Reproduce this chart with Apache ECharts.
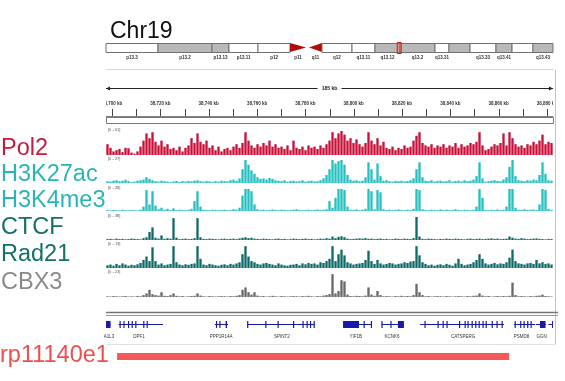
<!DOCTYPE html>
<html><head><meta charset="utf-8">
<script src="https://cdn.jsdelivr.net/npm/echarts@6/dist/echarts.min.js"></script>
<style>html,body{margin:0;padding:0;background:#fff}#c{width:565px;height:381px}</style>
</head><body><div id="c"></div>
<script>
// ---------------- DATA ----------------
const chromName = 'Chr19';
const chromLength = 59.13; // Mb
const bandNames  = ['p13.3','p13.2','p13.13','p13.11','p12','p11','q11','q12','q13.11','q13.12','q13.2','q13.31','q13.32','q13.33','q13.41','q13.42','q13.43'];
const bandStart  = [0, 6.88, 14.02, 16.27, 20.11, 24.34, 26.85, 28.57, 32.54, 35.58, 38.89, 43.52, 45.37, 48.15, 51.59, 53.71, 56.48];
const bandEnd    = [6.88, 14.02, 16.27, 20.11, 24.34, 26.46, 28.57, 32.54, 35.58, 38.89, 43.52, 45.37, 48.15, 51.59, 53.71, 56.48, 59.13];
const bandStain  = ['w','g','g','w','w','acen','acen','w','w','g','g','w','g','w','g','w','g'];
const bandLabeled= [1,1,1,1,1,1,1,1,1,1,1,1,0,1,1,0,1];
const viewRegionMb = [38.6975, 38.8825];

const viewStartKb = 38697.5, viewEndKb = 38882.5;
const rulerMajorTicks = [38700,38720,38740,38760,38780,38800,38820,38840,38860,38880];
const rulerMajorLabels = ['38,700 kb','38,720 kb','38,740 kb','38,760 kb','38,780 kb','38,800 kb','38,820 kb','38,840 kb','38,860 kb','38,880 kb'];
const rulerMinorTicks = [38710,38730,38750,38770,38790,38810,38830,38850,38870];

const trackNames  = ['Pol2','H3K27ac','H3K4me3','CTCF','Rad21','CBX3'];
const trackRanges = ['[0 - 61]','[0 - 27]','[0 - 28]','[0 - 38]','[0 - 13]','[0 - 23]'];

const pol2 = [45,30,15,20,25,12,30,28,10,5, 15,35,60,90,70,95,55,40,60,35, 45,25,30,20,35,15,30,40,70,50,
  90,55,45,60,30,40,20,35,15,25, 30,20,35,45,30,50,95,60,40,30, 45,35,50,40,60,35,45,30,35,25,
  40,20,60,30,25,35,20,40,30,35, 25,40,30,45,60,95,70,90,100,85, 60,70,50,65,45,35,50,95,60,45,
  70,40,55,30,25,35,20,30,25,40, 30,35,60,80,95,50,40,35,45,30, 40,35,45,30,40,35,50,30,45,35,
  40,50,45,55,95,40,20,25,35,45, 40,50,90,40,95,70,45,35,40,30, 45,40,55,45,60,85,45,55,50];
const h3k27ac = [8,6,10,12,8,10,14,9,4,6, 10,12,15,25,18,12,8,6,10,8, 6,4,7,9,5,8,6,9,7,10,
  12,8,6,9,7,5,8,6,10,8, 7,12,15,10,20,60,100,80,55,40, 25,18,20,15,22,18,12,10,8,12,
  6,9,10,7,8,12,6,9,10,7, 8,12,20,35,60,100,85,95,100,80, 35,15,10,12,8,10,25,90,60,15,
  85,30,10,12,8,6,9,8,10,7, 9,12,20,60,90,25,10,8,12,6, 9,10,7,8,12,6,9,10,7,12,
  8,10,15,30,90,20,6,8,10,12, 9,8,15,25,70,100,30,12,10,8, 12,10,15,12,35,90,40,12,10];
const h3k4me3 = [4,3,5,4,3,6,4,3,5,4, 3,6,20,95,30,90,25,8,15,6, 10,5,12,4,6,5,4,6,10,45,
  90,20,6,5,4,6,5,4,5,6, 4,5,8,6,15,70,100,100,90,30, 8,5,6,4,5,7,5,4,6,5,
  4,5,6,8,5,4,5,6,4,5, 7,5,6,8,45,15,60,100,100,95, 20,6,5,7,4,6,10,100,90,8,
  95,85,8,5,6,4,5,7,5,4, 6,5,10,100,95,8,5,4,6,5, 4,7,5,6,4,5,8,5,4,6,
  5,4,6,20,100,60,5,4,6,5, 7,5,6,20,100,100,15,6,5,8, 5,6,7,5,30,100,95,10,5];
const ctcf = [4,5,3,6,4,5,3,4,6,5, 4,3,8,12,35,55,10,6,20,5, 8,6,95,10,4,5,6,4,5,8,
  95,12,5,4,6,5,4,3,5,6, 4,5,6,4,7,10,12,8,10,6, 5,4,6,5,4,3,5,6,4,5,
  3,4,6,5,4,5,6,4,5,3, 4,6,5,8,6,15,8,14,16,12, 6,4,5,6,7,6,8,5,6,4,
  5,6,4,5,3,4,6,5,4,6, 5,4,8,100,15,5,4,6,5,4, 3,5,4,6,5,4,6,5,4,3,
  5,6,4,5,6,4,5,6,7,5, 6,4,5,6,15,10,6,5,8,6, 4,5,6,7,5,4,3,5,4];
const rad21 = [12,15,10,18,12,20,15,10,14,12, 16,22,35,50,30,90,30,15,20,12, 15,18,95,25,15,12,16,14,18,20,
  95,40,15,12,18,15,12,10,14,16, 12,18,15,20,25,60,95,50,30,25, 18,15,20,22,18,15,12,20,15,12,
  10,14,15,18,12,20,16,22,18,20, 15,25,22,30,40,95,30,60,80,55, 25,20,15,18,20,22,35,75,30,18,
  35,20,15,18,22,20,15,18,20,25, 22,28,30,95,55,25,18,12,15,10, 14,16,12,18,14,10,20,40,18,12,
  15,18,25,35,60,40,20,15,18,22, 16,20,18,25,45,80,30,20,18,15, 20,22,18,35,20,25,18,20,15];
const cbx3 = [3,2,4,3,2,3,4,2,3,2, 4,3,8,15,30,12,8,6,20,5, 4,8,15,5,3,4,2,3,4,5,
  15,6,3,2,4,3,2,3,4,3, 2,4,3,5,8,30,40,20,10,20, 6,3,4,2,3,5,3,2,4,3,
  2,3,4,3,2,4,3,5,3,2, 4,3,6,8,12,95,15,25,70,65, 10,4,3,5,4,3,6,40,10,5,
  25,8,3,4,3,2,4,3,5,3, 4,3,8,55,20,8,3,4,2,3, 4,3,2,4,3,2,3,4,3,2,
  4,3,5,6,15,6,3,4,2,3, 4,3,4,3,5,60,8,3,4,3, 2,4,3,5,6,10,4,3,2];
const trackValues = [pol2, h3k27ac, h3k4me3, ctcf, rad21, cbx3];

const geneNames  = ['A1L3','DPF1','PPP1R14A','SPINT2','YIF1B','KCNK6','CATSPERG','PSMD8','GGN',''];
const geneStart  = [38690, 38702.7, 38742.6, 38755.9, 38795.6, 38811.5, 38827.5, 38866.4, 38875.5, 38880.6];
const geneEnd    = [38699.4, 38721.1, 38748.0, 38784.0, 38807.4, 38820.8, 38862.2, 38875.1, 38879.6, 38884];
const geneLabelKb= [38698.7, 38711.2, 38745.1, 38770.3, 38800.9, 38815.9, 38845.3, 38869.5, 38877.8, 38882];
const geneExons = [
  [[38697.5,38699.4]],
  [[38703.1,38703.5],[38704.7,38705.1],[38706.6,38707.0],[38708.1,38708.5],[38709.6,38710.0],[38712.9,38713.3],[38714.3,38714.7]],
  [[38743.0,38743.4],[38744.4,38744.8],[38747.0,38747.6]],
  [[38755.9,38756.3],[38763.4,38763.8],[38768.5,38768.9],[38774.9,38775.3],[38778.8,38779.2],[38780.5,38780.9],[38781.9,38782.3],[38783.4,38783.9]],
  [[38795.6,38802.2],[38804.1,38804.5],[38807.1,38807.5]],
  [[38811.5,38811.9],[38815.2,38815.6],[38818.3,38820.8]],
  [[38829.3,38829.7],[38834.7,38835.1],[38836.8,38837.2],[38838.4,38838.8],[38843.6,38844.0],[38845.9,38846.3],[38847.1,38847.5],[38848.8,38849.2],[38850.3,38850.7],[38851.7,38852.1],[38853.3,38853.7],[38854.6,38855.0],[38857.1,38857.5],[38859.1,38859.5],[38861.2,38861.6]],
  [[38866.6,38867.0],[38868.9,38869.3],[38870.3,38870.7],[38871.8,38872.2],[38873.2,38873.6]],
  [[38877.1,38879.4]],
  [[38882.1,38882.5]]
];

const cloneName = 'rp11140e1';
const cloneRange = [38702.1, 38864.4];

// ---------------- STYLE / LAYOUT ----------------
const FONT = '"Liberation Sans", Arial, sans-serif';
const GL = 106, GR = 12;
const trackColors = ['#c8103a','#25c0c0','#25c0c0','#0f6b68','#0f6b68','#6a6a6a'];
const trackTextColors = ['#c41a3c','#2ab5b5','#2ab5b5','#13706b','#13706b','#8a8a8a'];
const trackTop = [131,160,189,217,245,273];
const trackH   = [24,23,22,23,23,24];
const trackNameY = [149,175,201,228,255,283];

const grids = [], xAxes = [], yAxes = [], series = [];
// 0 ideogram
grids.push({left:GL,right:GR,top:43,height:9});
xAxes.push({gridIndex:0,type:'value',min:0,max:chromLength,show:false});
yAxes.push({gridIndex:0,type:'value',min:0,max:1,show:false});
// 1 ruler
grids.push({left:GL,right:GR,top:80,height:44});
xAxes.push({gridIndex:1,type:'value',min:viewStartKb,max:viewEndKb,show:false});
yAxes.push({gridIndex:1,type:'value',min:0,max:1,show:false});
// 2..7 tracks
trackValues.forEach((vals,k)=>{
  grids.push({left:GL,right:GR,top:trackTop[k],height:trackH[k]});
  xAxes.push({gridIndex:2+k,type:'category',data:vals.map((_,i)=>i),show:false,boundaryGap:true});
  yAxes.push({gridIndex:2+k,type:'value',min:0,max:100,show:false});
  series.push({type:'bar',xAxisIndex:2+k,yAxisIndex:2+k,data:vals,barCategoryGap:'22%',
    itemStyle:{color:trackColors[k]},silent:true,animation:false});
});
// 8 genes
grids.push({left:GL,right:GR,top:318,height:12});
xAxes.push({gridIndex:8,type:'value',min:viewStartKb,max:viewEndKb,show:false});
yAxes.push({gridIndex:8,type:'value',min:0,max:1,show:false});
// 9 clone
grids.push({left:GL,right:GR,top:353,height:7});
xAxes.push({gridIndex:9,type:'value',min:viewStartKb,max:viewEndKb,show:false});
yAxes.push({gridIndex:9,type:'value',min:0,max:1,show:false});

// ideogram bands
series.push({type:'custom',xAxisIndex:0,yAxisIndex:0,clip:false,silent:true,animation:false,
  data:bandNames.map((n,i)=>[bandStart[i],bandEnd[i],i]),
  encode:{x:[0,1]},
  renderItem(params,api){
    const i=api.value(2);
    const x0=api.coord([api.value(0),0])[0], x1=api.coord([api.value(1),0])[0];
    const cs=params.coordSys; const top=cs.y, h=cs.height, bot=top+h, mid=top+h/2;
    const ch=[];
    if(bandStain[i]==='acen'){
      const pts = bandNames[i][0]==='p' ? [[x0,top],[x0,bot],[x1,mid]] : [[x0,mid],[x1,top],[x1,bot]];
      ch.push({type:'polygon',shape:{points:pts},style:{fill:'#b30c0c'}});
    } else {
      ch.push({type:'rect',shape:{x:x0,y:top+0.5,width:x1-x0,height:h},style:{fill:bandStain[i]==='g'?'#b9b9b9':'#ffffff',stroke:'#707070',lineWidth:1}});
    }
    if(bandLabeled[i]) ch.push({type:'text',style:{text:bandNames[i],x:(x0+x1)/2,y:bot+5.5,align:'center',verticalAlign:'middle',
      font:'bold 4.5px '+FONT,fill:'#333'}});
    return {type:'group',children:ch};
  }});
// view box on ideogram
series.push({type:'custom',xAxisIndex:0,yAxisIndex:0,clip:false,silent:true,animation:false,
  data:[viewRegionMb],encode:{x:[0,1]},
  renderItem(params,api){
    const x0=api.coord([api.value(0),0])[0], x1=api.coord([api.value(1),0])[0];
    const cs=params.coordSys; const c=(x0+x1)/2, w=Math.max(4,x1-x0);
    return {type:'rect',shape:{x:c-w/2,y:cs.y-0.5,width:w,height:cs.height+2},style:{fill:'rgba(255,80,80,0.25)',stroke:'#f01010',lineWidth:1}};
  }});
// ruler major ticks
series.push({type:'custom',xAxisIndex:1,yAxisIndex:1,clip:true,silent:true,animation:false,
  data:rulerMajorTicks.map((t,i)=>[t,i]),encode:{x:0},
  renderItem(params,api){
    const x=api.coord([api.value(0),0])[0]; const cs=params.coordSys; const i=api.value(1);
    return {type:'group',children:[
      {type:'line',shape:{x1:Math.round(x)+0.5,y1:cs.y+29,x2:Math.round(x)+0.5,y2:cs.y+36},style:{stroke:'#444',lineWidth:1}},
      {type:'text',style:{text:rulerMajorLabels[i],x:x,y:cs.y+24,align:'center',verticalAlign:'middle',font:'bold 4.5px '+FONT,fill:'#333'}}
    ]};
  }});
series.push({type:'custom',xAxisIndex:1,yAxisIndex:1,clip:true,silent:true,animation:false,
  data:rulerMinorTicks.map(t=>[t]),encode:{x:0},
  renderItem(params,api){
    const x=api.coord([api.value(0),0])[0]; const cs=params.coordSys;
    return {type:'line',shape:{x1:Math.round(x)+0.5,y1:cs.y+29,x2:Math.round(x)+0.5,y2:cs.y+36},style:{stroke:'#444',lineWidth:1}};
  }});
// ruler span arrow + frame
series.push({type:'custom',xAxisIndex:1,yAxisIndex:1,clip:false,silent:true,animation:false,
  data:[[viewStartKb,viewEndKb]],encode:{x:[0,1]},
  renderItem(params,api){
    const x0=api.coord([api.value(0),0])[0], x1=api.coord([api.value(1),0])[0]; const cs=params.coordSys;
    const y=cs.y+8.5, c=(x0+x1)/2;
    const txt=Math.round(api.value(1)-api.value(0))+' kb';
    return {type:'group',children:[
      {type:'line',shape:{x1:x0,y1:y,x2:x1,y2:y},style:{stroke:'#222',lineWidth:1}},
      {type:'polygon',shape:{points:[[x0,y],[x0+4,y-2],[x0+4,y+2]]},style:{fill:'#222'}},
      {type:'polygon',shape:{points:[[x1,y],[x1-4,y-2],[x1-4,y+2]]},style:{fill:'#222'}},
      {type:'rect',shape:{x:c-12,y:y-4,width:24,height:8},style:{fill:'#fff'}},
      {type:'text',style:{text:txt,x:c,y:y,align:'center',verticalAlign:'middle',font:'bold 5px '+FONT,fill:'#222'}},
      {type:'line',shape:{x1:x0,y1:cs.y+37,x2:x1,y2:cs.y+37},style:{stroke:'#555',lineWidth:1.5}},
      {type:'rect',shape:{x:x0+0.5,y:cs.y+37.5,width:x1-x0,height:6},style:{fill:'#fff',stroke:'#777',lineWidth:1}}
    ]};
  }});
// genes
series.push({type:'custom',xAxisIndex:8,yAxisIndex:8,clip:true,silent:true,animation:false,
  data:geneNames.map((n,i)=>[geneStart[i],geneEnd[i],i]),encode:{x:[0,1]},
  renderItem(params,api){
    const i=api.value(2); const cs=params.coordSys;
    const x0=api.coord([api.value(0),0])[0], x1=api.coord([api.value(1),0])[0];
    const yc=cs.y+6; const col='#1a1aa8';
    const ch=[{type:'line',shape:{x1:x0,y1:yc+0.5,x2:x1,y2:yc+0.5},style:{stroke:col,lineWidth:1}}];
    geneExons[i].forEach(e=>{
      const a=api.coord([e[0],0])[0], b=api.coord([e[1],0])[0];
      ch.push({type:'rect',shape:{x:a,y:yc-3,width:Math.max(1.2,b-a),height:7},style:{fill:col}});
    });
    return {type:'group',children:ch};
  }});
series.push({type:'custom',xAxisIndex:8,yAxisIndex:8,clip:false,silent:true,animation:false,
  data:geneNames.map((n,i)=>[geneLabelKb[i],i]),encode:{x:0},
  renderItem(params,api){
    const i=api.value(1); const cs=params.coordSys;
    const x=api.coord([api.value(0),0])[0];
    return {type:'text',style:{text:geneNames[i],x:x,y:cs.y+19,align:'center',verticalAlign:'middle',font:'4.5px '+FONT,fill:'#333'}};
  }});
// clone bar
series.push({type:'custom',xAxisIndex:9,yAxisIndex:9,clip:false,silent:true,animation:false,
  data:[cloneRange],encode:{x:[0,1]},
  renderItem(params,api){
    const x0=api.coord([api.value(0),0])[0], x1=api.coord([api.value(1),0])[0]; const cs=params.coordSys;
    return {type:'rect',shape:{x:x0,y:cs.y,width:x1-x0,height:cs.height},style:{fill:'#f45a5a'}};
  }});

const graphics = [
  {type:'text',left:110,top:20,style:{text:chromName,font:'23px '+FONT,fill:'#111'}},
  {type:'line',shape:{x1:106,y1:69.5,x2:554,y2:69.5},style:{stroke:'#d8d8d8',lineWidth:1}},
  {type:'line',shape:{x1:555.5,y1:70,x2:555.5,y2:344},style:{stroke:'#c4c4c4',lineWidth:1}},
  {type:'line',shape:{x1:106,y1:312.5,x2:558,y2:312.5},style:{stroke:'#777',lineWidth:1.3}},
  {type:'line',shape:{x1:106,y1:315.5,x2:558,y2:315.5},style:{stroke:'#999',lineWidth:1}},
  {type:'line',shape:{x1:106,y1:344.5,x2:556,y2:344.5},style:{stroke:'#e2e2e2',lineWidth:1}},
  {type:'text',x:0,y:356,style:{text:cloneName,font:'23.5px '+FONT,fill:'#f04d4d',verticalAlign:'middle'}}
];
trackNames.forEach((n,k)=>{
  graphics.push({type:'text',x:1,y:trackNameY[k],style:{text:n,font:'23.5px '+FONT,fill:trackTextColors[k],verticalAlign:'middle'}});
  graphics.push({type:'text',x:108,y:trackTop[k]-1,style:{text:trackRanges[k],font:'4px '+FONT,fill:'#555',verticalAlign:'middle'}});
});

const chart = echarts.init(document.getElementById('c'));
chart.setOption({
  backgroundColor:'#ffffff', animation:false,
  grid:grids, xAxis:xAxes, yAxis:yAxes, series:series, graphic:graphics
});
</script></body></html>
